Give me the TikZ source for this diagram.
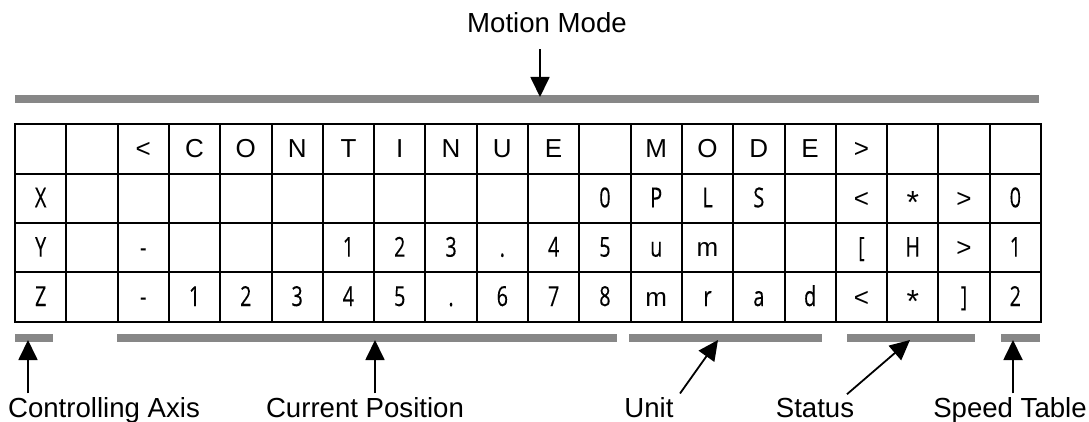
\documentclass[tikz,border=0pt]{standalone}
\usepackage{fontspec}
\setmainfont{Liberation Sans}
\newfontfamily\narrowfont[FakeStretch=0.72,FakeBold=0.2]{Open Sans}
\usetikzlibrary{arrows.meta}

\newcommand{\labelsize}{\fontsize{27.6}{30}\selectfont}
\newcommand{\topsize}{\fontsize{26}{28}\selectfont}
\newcommand{\lcd}{\narrowfont\fontsize{27.5}{30}\selectfont}
\newcommand{\wide}[1]{{\rmfamily\topsize #1}}
\newcommand{\cellstar}{{\rmfamily\fontsize{32}{34}\selectfont\raisebox{-6pt}{*}}}

\tikzset{
  cell/.style={draw, line width=2pt, minimum width=51.3pt, minimum height=49.35pt,
    inner sep=0pt, text height=19pt, text depth=1pt},
  graybar/.style={line width=7.5pt, draw=black!47},
  pointer/.style={-{Triangle[length=20pt,width=19pt]}, line width=1.8pt},
  callout/.style={font=\labelsize, anchor=base},
}

\begin{document}
\begin{tikzpicture}[x=1pt,y=-1pt]
  \useasboundingbox (0,0) rectangle (1089,422);

  \foreach \ch [count=\k] in {,,<,C,O,N,T,I,N,U,E,,M,O,D,E,>,,,}
    \node[cell, font=\topsize] (a\k) at ({15+51.3*(\k-0.5)},149) {\ch};
  \foreach \ch [count=\k] in {X,,,,,,,,,,,0,P,L,S,,\wide{<},\cellstar,\wide{>},0}
    \node[cell, font=\lcd] (x\k) at ({15+51.3*(\k-0.5)},198.3) {\ch};
  \foreach \ch [count=\k] in {Y,,-,,,,1,2,3,.,4,5,u,\wide{m},,,[,H,\wide{>},1}
    \node[cell, font=\lcd] (y\k) at ({15+51.3*(\k-0.5)},247.7) {\ch};
  \foreach \ch [count=\k] in {Z,,-,1,2,3,4,5,.,6,7,8,\wide{m},r,a,d,\wide{<},\cellstar,],2}
    \node[cell, font=\lcd] (z\k) at ({15+51.3*(\k-0.5)},297) {\ch};

  \draw[graybar] (15,99) -- (1039,99);
  \draw[graybar] (15,338) -- (53,338);
  \draw[graybar] (117,338) -- (617,338);
  \draw[graybar] (629,338) -- (822,338);
  \draw[graybar] (847,338) -- (975,338);
  \draw[graybar] (1001,338) -- (1040,338);

  \coordinate (modetip) at (540,97);
  \coordinate (axistip) at (28,340);
  \coordinate (postip) at (375,340);
  \coordinate (unittip) at (718,340);
  \coordinate (statustip) at (910,340);
  \coordinate (speedtip) at (1013,340);

  \node[callout, inner ysep=16pt] (mode) at (547,33) {Motion Mode};
  \node[callout] (axis) at (104,417) {Controlling Axis};
  \node[callout] (pos) at (365,417) {Current Position};
  \node[callout] (unit) at (649,417) {Unit};
  \node[callout] (status) at (815,417) {Status};
  \node[callout] (speed) at (1010,417) {Speed Table};

  \draw[pointer] (mode.south -| modetip) -- (modetip);
  \draw[pointer] (axis.north -| axistip) -- (axistip);
  \draw[pointer] (pos.north -| postip) -- (postip);
  \draw[pointer] ([xshift=31pt]unit.north) -- (unittip);
  \draw[pointer] ([xshift=32pt]status.north) -- (statustip);
  \draw[pointer] (speed.north -| speedtip) -- (speedtip);
\end{tikzpicture}
\end{document}
